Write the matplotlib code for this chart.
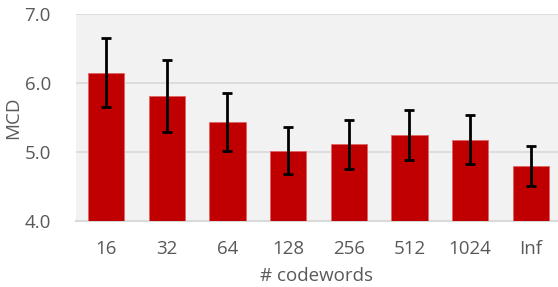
import numpy as np
import matplotlib.pyplot as plt

labels = ["16", "32", "64", "128", "256", "512", "1024", "Inf"]
mcd = [6.15, 5.81, 5.43, 5.02, 5.11, 5.25, 5.18, 4.80]
err = [0.50, 0.52, 0.42, 0.34, 0.35, 0.36, 0.35, 0.29]

plt.rcParams['font.family'] = ['Open Sans', 'DejaVu Sans']

fig = plt.figure(figsize=(5.58, 2.87), dpi=100)
ax = fig.add_axes([0.136, 0.23, 0.864, 0.721])
ax.set_facecolor('#F2F2F2')

x = np.arange(len(labels))
ax.bar(x, np.array(mcd) - 4.0, bottom=4.0, width=0.6, color='#C00000',
       edgecolor='#E06666', linewidth=0.6, zorder=3)
ax.errorbar(x, mcd, yerr=err, fmt='none', ecolor='black', elinewidth=2,
            capsize=3.5, capthick=2, zorder=4)

ax.set_ylim(4.0, 7.0)
ax.set_xlim(-0.5, 7.45)
ax.set_yticks([4.0, 5.0, 6.0, 7.0])
ax.set_yticklabels(["4.0", "5.0", "6.0", "7.0"])
ax.set_xticks(x)
ax.set_xticklabels(labels)
ax.yaxis.grid(True, color='#D9D9D9', linewidth=1.2, zorder=0)
ax.set_axisbelow(True)
for s in ['top', 'right', 'left']:
    ax.spines[s].set_visible(False)
ax.spines['bottom'].set_color('#D9D9D9')
ax.spines['bottom'].set_linewidth(1.5)
ax.tick_params(length=0, labelsize=13.5, labelcolor='#595959')
ax.tick_params(axis='x', pad=14)
ax.tick_params(axis='y', pad=18)
ax.set_ylabel("MCD", fontsize=13.5, color='#595959', labelpad=2)
ax.set_xlabel("# codewords", fontsize=13.5, color='#595959', labelpad=6)

fig.savefig("out.png", dpi=100)
